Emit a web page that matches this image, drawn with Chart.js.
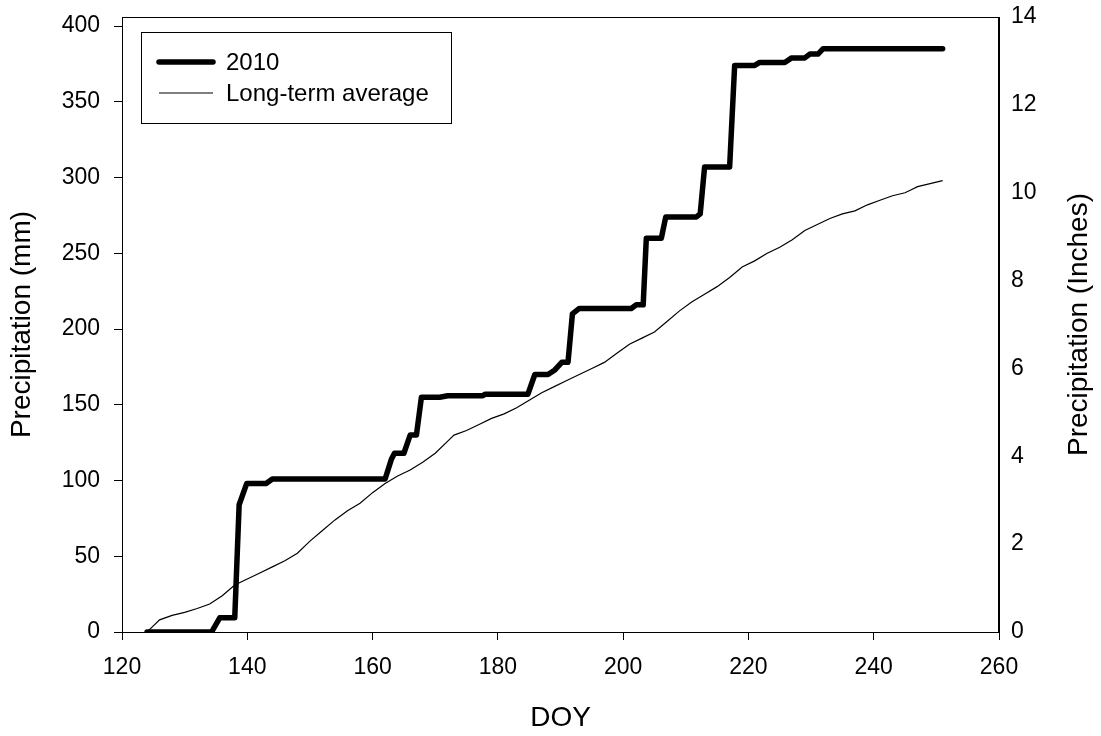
<!DOCTYPE html>
<html>
<head>
<meta charset="utf-8">
<script src="https://cdn.jsdelivr.net/npm/chart.js@4.4.1/dist/chart.umd.min.js"></script>
<style>
  html, body { margin: 0; padding: 0; background: #fff; }
  canvas { display: block; }
</style>
</head>
<body>
<canvas id="myChart" width="1101" height="736"></canvas>
<script>
// 2010 cumulative precipitation (mm), breakpoints
const doy2010 = [124, 134.3, 135.6, 138, 138.7, 139.9, 143, 144, 162, 163, 163.5, 165, 166, 167, 167.8, 170.7, 172, 177.6, 178, 184.8,
  185.9, 188, 189.1, 190.2, 191.2, 191.9, 193, 201.3, 202.1, 203.2, 203.7, 206.1, 206.8, 211.7, 212.3, 213, 217, 217.8, 221, 221.8,
  225.8, 226.9, 229, 229.8, 231.1, 231.9, 251];
const mm2010 = [0, 0, 9.4, 9.4, 84, 98, 98, 101, 101, 114, 118, 118, 130, 130, 155, 155, 156, 156, 157, 157,
  170, 170, 173, 178, 178, 210, 213.6, 213.6, 216, 216, 260, 260, 274, 274, 276, 307, 307, 374, 374, 376,
  376, 379, 379, 381.5, 381.5, 385, 385];

// long-term average cumulative precipitation (mm)
const doyAvg = [124, 125, 126, 128, 130, 132, 134, 136, 138, 140, 142, 144, 146, 148, 150, 152, 154, 156, 158, 160,
  162, 164, 166, 168, 170, 172, 173, 175, 177, 179, 181, 183, 185, 187, 189, 191, 193, 195, 197, 199,
  201, 203, 205, 207, 209, 211, 213, 215, 217, 219, 221, 223, 225, 227, 229, 231, 233, 235, 237, 239,
  241, 243, 245, 246, 247, 249, 251];
const mmAvg = [0, 4, 8, 11, 13, 15.5, 18.5, 24, 31, 35, 39, 43, 47, 52, 60, 67, 74, 80, 85, 92,
  98, 103, 107, 112, 118, 126, 130, 133, 137, 141, 144, 148, 153, 158, 162, 166, 170, 174, 178, 184,
  190, 194, 198, 205, 212, 218, 223, 228, 234, 241, 245, 250, 254, 259, 265, 269, 273, 276, 278, 282,
  285, 288, 290, 292, 294, 296, 298];

const seriesNames = ['2010', 'Long-term average'];
const mmTicks = [0, 50, 100, 150, 200, 250, 300, 350, 400];
const xTitle = 'DOY';
const yTitle = 'Precipitation (mm)';
const y2Title = 'Precipitation (Inches)';

const FONT = "Arial, 'Liberation Sans', sans-serif";

const toPoints = (xs, ys) => xs.map((x, i) => ({ x: x, y: ys[i] }));

// frame, boxed legend and right-hand title (reads bottom to top)
const extras = {
  id: 'extras',
  afterDraw(chart) {
    const { ctx, chartArea: a } = chart;
    ctx.save();
    ctx.strokeStyle = '#000';
    ctx.lineWidth = 1;
    ctx.strokeRect(Math.round(a.left) + 0.5, Math.round(a.top) + 0.5,
      Math.round(a.right - a.left) - 1, Math.round(a.bottom - a.top));

    // legend
    const bx = 141.5, by = 32.5, bw = 310, bh = 91;
    ctx.strokeRect(bx, by, bw, bh);
    ctx.font = '24px ' + FONT;
    ctx.fillStyle = '#000';
    ctx.textBaseline = 'middle';
    chart.data.datasets.forEach((ds, i) => {
      const y = 62 + i * 31;
      ctx.beginPath();
      ctx.lineWidth = ds.borderWidth;
      ctx.lineCap = ds.borderCapStyle || 'butt';
      ctx.moveTo(159, y);
      ctx.lineTo(213, y);
      ctx.stroke();
      ctx.fillText(ds.label, 226, y + 1);
    });

    // right axis title
    ctx.font = '28px ' + FONT;
    ctx.textAlign = 'center';
    ctx.translate(1079, (a.top + a.bottom) / 2);
    ctx.rotate(-Math.PI / 2);
    ctx.fillText(y2Title, 0, 0);
    ctx.restore();
  }
};

const fitY = (w) => (s) => { s.width = w; s.paddingTop = 0; s.paddingBottom = 0; };

const ctx = document.getElementById('myChart').getContext('2d');
const chart = new Chart(ctx, {
  type: 'line',
  data: {
    datasets: [{
      label: seriesNames[0],
      data: toPoints(doy2010, mm2010),
      borderColor: '#000',
      borderWidth: 5.5,
      borderCapStyle: 'round',
      borderJoinStyle: 'round',
      pointRadius: 0,
      tension: 0,
      yAxisID: 'y'
    }, {
      label: seriesNames[1],
      data: toPoints(doyAvg, mmAvg),
      borderColor: '#000',
      borderWidth: 1.2,
      pointRadius: 0,
      tension: 0,
      yAxisID: 'y'
    }]
  },
  options: {
    responsive: false,
    animation: false,
    layout: { padding: { top: 17, left: 0, right: 0, bottom: 0 } },
    plugins: {
      legend: { display: false },
      tooltip: { enabled: false }
    },
    scales: {
      x: {
        type: 'linear',
        min: 120,
        max: 260,
        afterFit: (s) => { s.height = 104; s.paddingLeft = 0; s.paddingRight = 0; },
        ticks: { stepSize: 20, color: '#000', font: { family: FONT, size: 23 }, padding: 14, maxRotation: 0 },
        grid: { drawOnChartArea: false, drawTicks: true, tickLength: 8, color: '#000', lineWidth: 1 },
        border: { display: true, color: '#000', width: 1 },
        title: { display: true, text: xTitle, color: '#000', font: { family: FONT, size: 28 }, padding: { top: 0, bottom: 1 } }
      },
      y: {
        position: 'left',
        min: 0,
        max: 406,
        afterFit: fitY(122),
        afterBuildTicks: (s) => { s.ticks = mmTicks.map(v => ({ value: v })); },
        ticks: { stepSize: 50, color: '#000', font: { family: FONT, size: 23 }, padding: 14 },
        grid: { drawOnChartArea: false, drawTicks: true, tickLength: 8, color: '#000', lineWidth: 1 },
        border: { display: true, color: '#000', width: 1 },
        title: { display: true, text: yTitle, color: '#000', font: { family: FONT, size: 28 }, padding: { top: 5, bottom: 0 } }
      },
      y2: {
        position: 'right',
        min: 0,
        max: 14,
        afterFit: fitY(102),
        ticks: { stepSize: 2, color: '#000', font: { family: FONT, size: 23 }, padding: 12 },
        grid: { display: false, drawTicks: false },
        border: { display: true, color: '#000', width: 1 }
      }
    }
  },
  plugins: [extras]
});
</script>
</body>
</html>
